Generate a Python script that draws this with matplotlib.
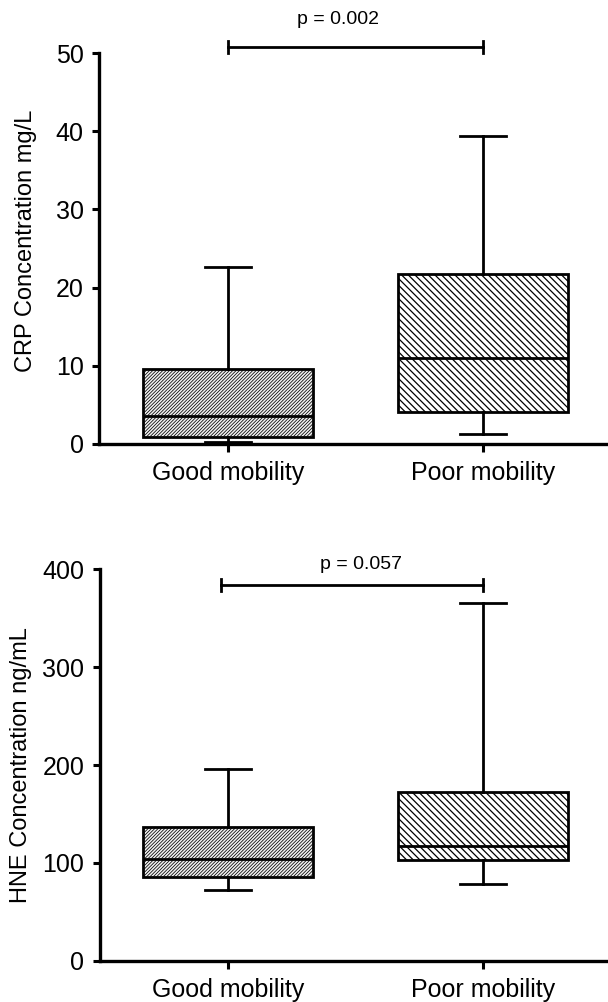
import matplotlib
matplotlib.use("Agg")
import matplotlib.pyplot as plt

plt.rcParams['font.family'] = ['Liberation Sans', 'DejaVu Sans']
plt.rcParams['hatch.linewidth'] = 0.9

groups = ["Good mobility", "Poor mobility"]

# CRP (mg/L): whisker low, Q1, median, Q3, whisker high
crp_low = [0.3, 1.3]
crp_q1 = [0.9, 4.1]
crp_med = [3.6, 11.0]
crp_q3 = [9.6, 21.7]
crp_high = [22.6, 39.4]
crp_p = "p = 0.002"
crp_bracket_y = 50.8
crp_bracket_x = [1.0, 2.0]
crp_text_xy = (1.43, 54.3)
crp_ticks = [0, 10, 20, 30, 40, 50]

# HNE (ng/mL)
hne_low = [72, 79]
hne_q1 = [86, 103]
hne_med = [104, 117]
hne_q3 = [137, 172]
hne_high = [196, 365]
hne_p = "p = 0.057"
hne_bracket_y = 384
hne_bracket_x = [0.973, 2.0]
hne_text_xy = (1.52, 405)
hne_ticks = [0, 100, 200, 300, 400]

hatches = ['/' * 10, '\\' * 5]
hatch_lw = [0.55, 0.9]
faces = ['#f0f0f0', 'white']


def panel(ax, low, q1, med, q3, high, ticks, ylabel, ptext, by, bx, txy, tick_h, lab_xy):
    stats = []
    for i, g in enumerate(groups):
        stats.append(dict(label=g, whislo=low[i], q1=q1[i], med=med[i],
                          q3=q3[i], whishi=high[i], fliers=[]))
    bp = ax.bxp(stats, positions=[1, 2], widths=0.667, patch_artist=True,
                showfliers=False, capwidths=0.18,
                boxprops=dict(linewidth=2.0, edgecolor='black'),
                medianprops=dict(color='black', linewidth=2.0),
                whiskerprops=dict(color='black', linewidth=2.0),
                capprops=dict(color='black', linewidth=2.0))
    for b, h, f, hl in zip(bp['boxes'], hatches, faces, hatch_lw):
        b.set_facecolor(f)
        b.set_hatch(h)
        if hasattr(b, 'set_hatch_linewidth'):
            b.set_hatch_linewidth(hl)
        else:
            b._hatch_linewidth = hl
    ax.set_xlim(0.495, 2.49)
    ax.set_ylim(0, ticks[-1])
    ax.set_yticks(ticks)
    ax.set_xticks([1, 2])
    ax.set_xticklabels(groups, fontsize=18)
    ax.tick_params(axis='y', labelsize=18, width=2.2, length=5, direction='out', pad=6)
    ax.tick_params(axis='x', width=2.2, length=6, direction='out', pad=6)
    for s in ['top', 'right']:
        ax.spines[s].set_visible(False)
    for s in ['left', 'bottom']:
        ax.spines[s].set_linewidth(2.4)
    ax.set_ylabel(ylabel, fontsize=17)
    ax.yaxis.set_label_coords(*lab_xy)
    # significance bracket
    ax.plot(bx, [by, by], color='black', lw=2.0, clip_on=False)
    for x in bx:
        ax.plot([x, x], [by - tick_h, by + tick_h], color='black', lw=2.0, clip_on=False)
    ax.text(txy[0], txy[1], ptext, ha='center', va='center', fontsize=14,
            clip_on=False)


fig = plt.figure(figsize=(6.08, 10.02), dpi=100)
ax1 = fig.add_axes([0.163, 0.557, 0.837, 0.390])
ax2 = fig.add_axes([0.164, 0.041, 0.836, 0.391])

panel(ax1, crp_low, crp_q1, crp_med, crp_q3, crp_high, crp_ticks,
      "CRP Concentration mg/L", crp_p, crp_bracket_y, crp_bracket_x, crp_text_xy, 0.75,
      (-0.122, 0.52))
panel(ax2, hne_low, hne_q1, hne_med, hne_q3, hne_high, hne_ticks,
      "HNE Concentration ng/mL", hne_p, hne_bracket_y, hne_bracket_x, hne_text_xy, 6,
      (-0.134, 0.5))

fig.savefig("out.png", dpi=100)
